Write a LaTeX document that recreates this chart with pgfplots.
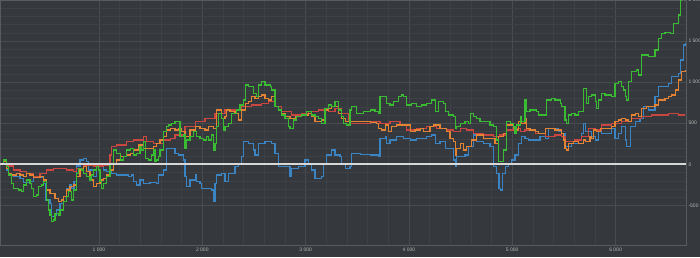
\documentclass[border=0pt]{standalone}
\usepackage{pgfplots}
\pgfplotsset{compat=1.18}
\usepackage{fontspec}
\setmainfont{Liberation Sans}
\definecolor{bg}{RGB}{53,56,60}
\definecolor{gmaj}{RGB}{72,75,79}
\definecolor{gmin}{RGB}{61,64,68}
\definecolor{frame}{RGB}{88,91,95}
\definecolor{tick}{RGB}{185,185,185}
\definecolor{cblue}{RGB}{58,132,195}
\definecolor{corange}{RGB}{226,132,52}
\definecolor{cgreen}{RGB}{58,188,50}
\definecolor{cred}{RGB}{202,70,64}
\begin{document}
\begin{tikzpicture}
\fill[bg] (0,-12pt) rectangle (700pt,245pt);
\begin{axis}[
  at={(0,0)}, anchor=south west,
  scale only axis, width=686pt, height=245pt,
  xmin=42, xmax=6682, ymin=-982, ymax=2000,
  axis background/.style={fill=bg},
  axis line style={draw=frame},
  xtick={1000,2000,3000,4000,5000,6000},
  xticklabels={1 000,2 000,3 000,4 000,5 000,6 000},
  ytick={-500,0,500,1000,1500,2000},
  yticklabels={-500,0,500,1 000,1 500,2 000},
  yticklabel pos=right,
  minor x tick num=4, minor y tick num=4,
  major tick length=0pt, minor tick length=0pt,
  grid=both,
  major grid style={draw=gmaj, line width=0.6pt},
  minor grid style={draw=gmin, line width=0.5pt},
  tick label style={font=\fontsize{5}{6}\selectfont, text=tick},
  xticklabel style={yshift=1pt},
  yticklabel style={anchor=west, xshift=-1pt},
  every axis plot/.append style={const plot, line width=1.1pt, mark=none},
  clip=true,
]
% blue
\addplot[cblue] coordinates {
(42,0) (74,32) (107,-69) (123,-130) (171,-150) (236,-170) (268,-223) (332,-211) (365,-158) (445,-158) (462,-231) (487,-434) (526,-475) (542,-637) (574,-617) (591,-556) (623,-475) (655,-454) (687,-292) (720,-252) (736,-292) (758,-211) (784,-20) (816,53) (849,73) (881,32) (897,-69) (946,-150) (978,-28) (1010,-8) (1042,-69) (1075,-89) (1123,-110) (1171,-130) (1236,-130) (1284,-150) (1317,-130) (1333,-211) (1365,-252) (1397,-191) (1430,-231) (1494,-223) (1559,-231) (1575,-130) (1623,-69) (1656,195) (1704,195)
(1736,134) (1768,114) (1817,53) (1833,-150) (1849,-272) (1881,-191) (1930,-130) (1946,-211) (1978,-231) (1994,-292) (2091,-312) (2107,-454) (2123,-231) (2139,-130) (2188,-110) (2220,-211) (2252,-110) (2317,-28) (2349,12) (2381,93) (2397,276) (2446,256) (2494,174) (2510,114) (2543,256) (2607,276) (2672,256) (2704,134) (2736,-28) (2801,-28) (2849,-150) (2865,-49) (2930,-28) (2994,53) (3027,12) (3059,-69) (3091,-170) (3156,-150) (3172,12) (3204,114) (3253,174) (3285,114) (3333,93) (3350,12) (3382,-49) (3430,-28)
(3446,134) (3527,122) (3624,114) (3704,93) (3720,316) (3769,337) (3785,256) (3817,296) (3882,337) (3946,316) (4011,296) (4075,316) (4172,337) (4221,357) (4253,256) (4301,276) (4350,195) (4398,195) (4430,53) (4447,-28) (4463,93) (4495,93) (4543,114) (4576,215) (4624,357) (4656,276) (4721,256) (4785,215) (4818,-28) (4850,-110) (4872,-292) (4889,-312) (4908,-110) (4931,-28) (4963,12) (4995,53) (5027,114) (5059,256) (5092,337) (5124,316)
(5156,296) (5221,296) (5269,337) (5318,316) (5350,438) (5447,398) (5479,377) (5511,215) (5576,256) (5640,296) (5673,377) (5689,499) (5705,398) (5769,337) (5802,296) (5834,418) (5866,377) (5898,377) (5963,438) (5995,316) (6028,377) (6060,458) (6092,296) (6108,215) (6141,458) (6189,519) (6237,560) (6270,702) (6318,661) (6382,824) (6415,945) (6512,986) (6544,1067) (6608,1108) (6625,1270) (6657,1452) (6673,1473)
};
% red
\addplot[cred] coordinates {
(42,0) (74,32) (107,-20) (171,-69) (236,-89) (300,-110) (365,-150) (429,-110) (494,-69) (558,-49) (623,-49) (687,-69) (752,-89) (784,-49) (849,-8) (946,-20) (1042,-8) (1107,114) (1123,215) (1171,235) (1268,276) (1333,296) (1430,337) (1462,276) (1526,256) (1623,296) (1688,316) (1736,357) (1833,458) (1930,519) (2026,560) (2123,621) (2220,661) (2317,661) (2381,702) (2478,722) (2575,742) (2640,763) (2704,702) (2769,641) (2865,600) (2962,621) (3027,641) (3124,661) (3220,641) (3285,682) (3350,621) (3414,519) (3430,499) (3527,499) (3624,519) (3720,499) (3817,519) (3914,479) (3979,418) (4075,438) (4172,458) (4269,438) (4366,418) (4430,398) (4495,438) (4560,418) (4624,377) (4721,357) (4818,337) (4882,357) (4947,418) (5011,438) (5076,398) (5124,418) (5221,377) (5318,337) (5414,357) (5479,337) (5511,280) (5608,296) (5673,337) (5737,438) (5802,418) (5866,479) (5963,499) (6060,519) (6157,560) (6253,580) (6350,600) (6415,600) (6512,621) (6608,600) (6673,600)
};
% orange
\addplot[corange] coordinates {
(42,0) (74,32) (107,-49) (123,-110) (155,-130) (203,-110) (236,-130) (268,-150) (300,-110) (332,-130) (365,-158) (429,-150) (462,-191) (494,-312) (526,-353) (574,-414) (607,-454) (639,-434) (655,-394) (687,-312) (720,-272) (752,-252) (784,-150) (816,-69) (849,-28) (881,-89) (913,-191) (946,-272) (978,-231) (1010,-191) (1042,-170) (1075,-130) (1107,-69) (1139,12) (1171,53) (1204,93) (1268,114) (1301,134) (1333,174) (1381,235) (1430,195) (1478,195) (1526,215) (1559,256) (1591,296) (1623,337) (1656,418) (1688,438)
(1736,418) (1768,438) (1801,398) (1833,337) (1881,418) (1930,458) (1978,438) (2026,418) (2059,458) (2107,438) (2139,661) (2172,661) (2188,560) (2220,580) (2236,661) (2268,641) (2317,621) (2349,540) (2381,661) (2414,742) (2446,763) (2478,824) (2510,803) (2543,824) (2575,844) (2607,803) (2640,783) (2672,824) (2704,702) (2736,661) (2769,621) (2801,580) (2849,560) (2898,580) (2962,600) (3027,621) (3059,580) (3091,519) (3156,540) (3188,661) (3220,682) (3253,702) (3285,702) (3317,621) (3350,560) (3382,519)
(3430,519) (3527,519) (3624,507) (3688,499) (3704,438) (3736,418) (3769,479) (3801,398) (3833,458) (3882,479) (3946,479) (4011,398) (4059,418) (4108,438) (4140,398) (4204,458) (4237,479) (4301,438) (4366,398) (4398,316) (4430,276) (4447,114) (4463,195) (4495,256) (4527,174) (4560,215) (4608,296) (4656,357) (4721,316) (4785,316) (4833,256) (4866,337) (4914,377) (4947,479) (4979,479) (5011,438) (5027,418) (5059,519) (5092,499)
(5124,560) (5140,438) (5172,418) (5221,398) (5253,377) (5318,438) (5350,438) (5414,418) (5479,377) (5495,296) (5511,195) (5527,174) (5544,256) (5592,276) (5640,256) (5689,296) (5705,276) (5753,337) (5769,316) (5786,418) (5818,398) (5850,438) (5898,438) (5963,458) (5995,519) (6028,540) (6060,560) (6092,540) (6124,519) (6157,600) (6189,621) (6221,580) (6253,682) (6302,702) (6382,722) (6415,783) (6479,803) (6512,824) (6544,844) (6576,905) (6608,1026) (6641,1128) (6673,1148)
};
% green
\addplot[cgreen] coordinates {
(42,0) (74,53) (107,-28) (123,-130) (155,-231) (171,-292) (219,-312) (252,-333) (268,-252) (300,-191) (332,-231) (349,-292) (365,-394) (397,-373) (413,-272) (445,-252) (462,-211) (494,-434) (510,-556) (526,-617) (542,-698) (558,-678) (574,-597) (607,-617) (623,-556) (655,-454) (687,-394) (704,-333) (736,-434) (752,-312) (784,-110) (800,-49) (833,-69) (849,-110) (881,-150) (913,-191) (929,-130) (946,-69) (978,-28) (994,-69) (1010,-211) (1026,-292) (1042,-231) (1075,-150) (1107,12) (1139,174) (1171,134) (1204,53) (1236,93) (1268,174) (1301,195) (1333,114) (1365,134) (1397,215) (1413,174) (1430,276) (1446,73) (1478,53) (1510,114) (1526,174) (1542,32) (1559,53) (1575,93) (1591,174) (1623,398) (1656,458) (1671,479) (1704,499)
(1736,519) (1768,519) (1784,337) (1817,357) (1833,195) (1849,296) (1881,337) (1913,398) (1946,337) (1978,316) (2010,296) (2043,337) (2059,296) (2091,357) (2107,174) (2123,256) (2139,458) (2156,621) (2188,560) (2204,418) (2220,458) (2252,499) (2285,621) (2317,621) (2333,661) (2365,722) (2398,783) (2414,965) (2446,945) (2478,945) (2494,864) (2527,824) (2543,965) (2575,1006) (2607,965) (2656,945) (2672,905) (2704,702) (2736,661) (2769,600) (2801,560) (2833,458) (2849,438) (2881,540) (2914,580) (2962,600) (3011,641) (3059,600) (3091,580) (3124,560) (3156,499) (3188,682) (3220,722) (3253,702) (3285,763) (3317,661) (3350,580) (3366,499) (3398,479)
(3430,661) (3446,702) (3495,621) (3559,641) (3624,661) (3672,641) (3704,621) (3720,824) (3753,824) (3785,742) (3817,722) (3849,763) (3898,824) (3930,844) (3946,824) (3979,722) (4027,742) (4075,702) (4124,722) (4172,742) (4204,742) (4221,783) (4253,641) (4285,763) (4334,742) (4350,641) (4382,600) (4430,580) (4447,438) (4463,458) (4495,499) (4543,519) (4576,499) (4592,621) (4624,580) (4656,560) (4688,519) (4721,519) (4785,479) (4818,458) (4850,296) (4866,32) (4898,32) (4914,174) (4947,519) (4979,499) (5011,458) (5027,377) (5043,479) (5076,580) (5092,519)
(5124,783) (5140,641) (5172,661) (5205,661) (5237,641) (5253,600) (5301,600) (5334,783) (5382,803) (5414,783) (5447,783) (5463,742) (5479,702) (5511,540) (5527,499) (5544,600) (5576,621) (5608,600) (5640,641) (5689,925) (5705,925) (5721,742) (5737,824) (5769,844) (5802,763) (5818,682) (5834,783) (5866,864) (5898,844) (5963,824) (5995,986) (6028,1006) (6060,945) (6076,905) (6092,824) (6108,783) (6124,1006) (6157,1128) (6205,1148) (6221,1087) (6253,1331) (6285,1331) (6318,1310) (6350,1310) (6382,1392) (6415,1534) (6447,1594) (6479,1607) (6528,1594) (6560,1716) (6608,1818) (6625,2000) (6641,2041)
};
% zero line
\addplot[color={rgb,255:red,215;green,215;blue,215}, line width=1.8pt, const plot=false] coordinates {(42,0) (6682,0)};
\end{axis}
\pgfresetboundingbox
\path[use as bounding box] (0,-12pt) rectangle (700pt,245pt);
\end{tikzpicture}
\end{document}
